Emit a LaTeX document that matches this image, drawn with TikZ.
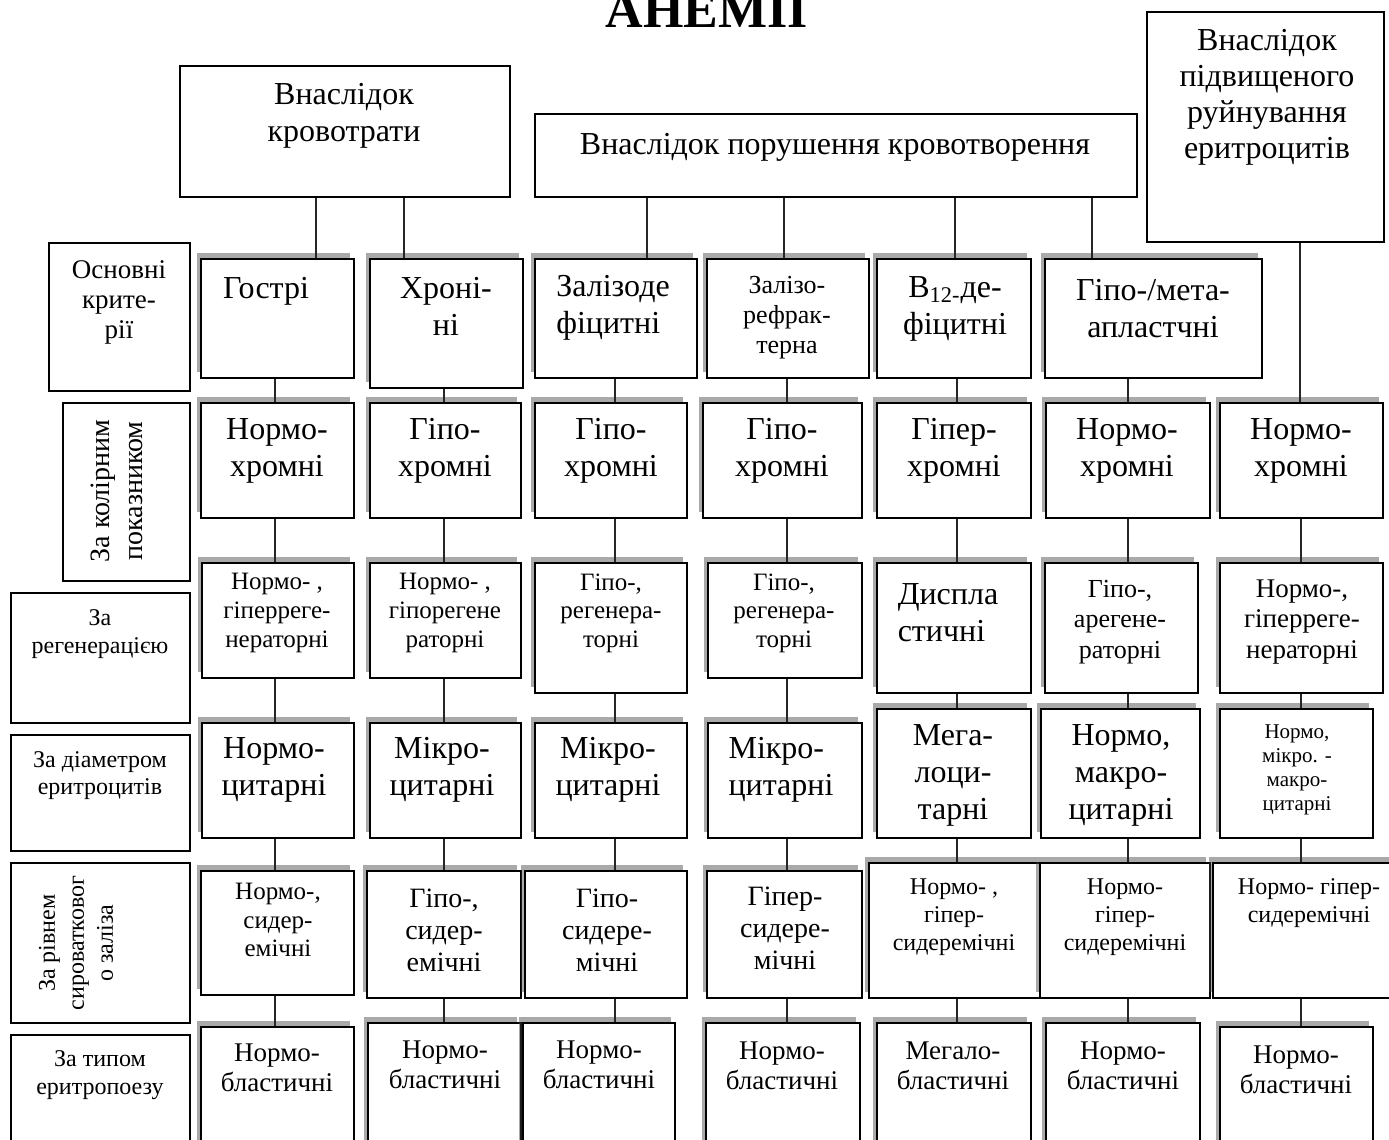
\documentclass[tikz,border=0pt]{standalone}
\usepackage{fontspec}
\setmainfont{Liberation Serif}
\usetikzlibrary{fit,shadows}
\tikzset{
  cell/.style={draw,line width=1pt,fill=white,inner sep=0pt},
  rowcell/.style={cell,drop shadow={shadow xshift=-2pt,shadow yshift=3pt,opacity=.45,fill=black!75}},
  wire/.style={line width=1.3pt,draw=black!85},
  txt/.style={align=center,inner sep=0pt},
  tA/.style={txt,font=\fontsize{16}{18.5}\selectfont},
  tB/.style={txt,font=\fontsize{14}{16}\selectfont},
  tC/.style={txt,font=\fontsize{13.5}{15}\selectfont},
  tD/.style={txt,font=\fontsize{12.5}{14.3}\selectfont},
  tE/.style={txt,font=\fontsize{12}{14}\selectfont},
  tF/.style={txt,font=\fontsize{10.5}{12}\selectfont}
}

\begin{document}
\begin{tikzpicture}[x=0.5pt,y=-0.5pt]
  \useasboundingbox (0,0) rectangle (1389,1140);
  % title
  \node[font=\fontsize{26}{30}\bfseries\selectfont,anchor=base] (title) at (707,27) {АНЕМІЇ};

  % causes
  \node[cell,fit={(180,66) (510,197)}] (A) {};
  \node[cell,fit={(535,114) (1137,197)}] (B) {};
  \node[cell,fit={(1147,12) (1384,242)}] (C) {};
  \node[tA] (A-t) at (344,116) {Внаслідок\\кровотрати};
  \node[tA] (B-t) at (835,147) {Внаслідок порушення кровотворення};
  \node[txt,font=\fontsize{16}{18}\selectfont] (C-t) at (1267,97) {Внаслідок\\підвищеного\\руйнування\\еритроцитів};

  % criteria
  \node[cell,fit={(49,243) (190,391)}] (L1) {};
  \node[cell,fit={(63,403) (190,581)}] (L2) {};
  \node[cell,fit={(11,593) (190,723)}] (L3) {};
  \node[cell,fit={(11,735) (190,851)}] (L4) {};
  \node[cell,fit={(11,863) (190,1023)}] (L5) {};
  \node[cell,fit={(11,1035) (190,1150)}] (L6) {};
  \node[tC] (L1-t) at (119,302) {Основні\\крите-\\рії};
  \node[txt,font=\fontsize{14}{16.5}\selectfont,rotate=90] (L2-t) at (117,491) {За колірним\\показником};
  \node[tE] (L3-t) at (100,634) {За\\регенерацією};
  \node[tE,font=\fontsize{12}{13.5}\selectfont] (L4-t) at (100,776) {За діаметром\\еритроцитів};
  \node[txt,font=\fontsize{12}{14.5}\selectfont,rotate=90] (L5-t) at (76,943) {За рівнем\\сироватковог\\о заліза};
  \node[tE] (L6-t) at (100,1075) {За типом\\еритропоезу};

  % row 1
  \node[rowcell,fit={(201,259) (354,378)}] (c-1-1) {};
  \node[rowcell,fit={(370,259) (523,388)}] (c-1-2) {};
  \node[rowcell,fit={(535,259) (697,378)}] (c-1-3) {};
  \node[rowcell,fit={(707,259) (869,378)}] (c-1-4) {};
  \node[rowcell,fit={(877,259) (1031,378)}] (c-1-5) {};
  \node[rowcell,fit={(1045,259) (1262,378)}] (c-1-6) {};
  \node[tA] (c-1-1-t) at (266,291) {Гострі};
  \node[tA] (c-1-2-t) at (446,306) {Хроні-\\ні};
  \node[tA,align=left] (c-1-3-t) at (613,308) {Залізоде\\фіцитні};
  \node[txt,font=\fontsize{13}{15}\selectfont] (c-1-4-t) at (787,318) {Залізо-\\рефрак-\\терна};
  \node[tA] (c-1-5-t) at (955,309) {В\textsubscript{12-}де-\\фіцитні};
  \node[tA] (c-1-6-t) at (1153,309) {Гіпо-/мета-\\апластчні};

  % row 2
  \node[rowcell,fit={(201,403) (354,518)}] (c-2-1) {};
  \node[rowcell,fit={(370,403) (521,518)}] (c-2-2) {};
  \node[rowcell,fit={(535,403) (687,518)}] (c-2-3) {};
  \node[rowcell,fit={(703,403) (862,518)}] (c-2-4) {};
  \node[rowcell,fit={(877,403) (1031,518)}] (c-2-5) {};
  \node[rowcell,fit={(1046,403) (1210,518)}] (c-2-6) {};
  \node[rowcell,fit={(1220,403) (1383,518)}] (c-2-7) {};
  \node[tA] (c-2-1-t) at (277,451) {Нормо-\\хромні};
  \node[tA] (c-2-2-t) at (445,451) {Гіпо-\\хромні};
  \node[tA] (c-2-3-t) at (611,451) {Гіпо-\\хромні};
  \node[tA] (c-2-4-t) at (782,451) {Гіпо-\\хромні};
  \node[tA] (c-2-5-t) at (954,451) {Гіпер-\\хромні};
  \node[tA] (c-2-6-t) at (1127,451) {Нормо-\\хромні};
  \node[tA] (c-2-7-t) at (1301,451) {Нормо-\\хромні};

  % row 3
  \node[rowcell,fit={(202,563) (354,678)}] (c-3-1) {};
  \node[rowcell,fit={(370,563) (521,678)}] (c-3-2) {};
  \node[rowcell,fit={(535,563) (687,693)}] (c-3-3) {};
  \node[rowcell,fit={(708,563) (862,678)}] (c-3-4) {};
  \node[rowcell,fit={(877,563) (1031,693)}] (c-3-5) {};
  \node[rowcell,fit={(1045,563) (1198,693)}] (c-3-6) {};
  \node[rowcell,fit={(1220,563) (1383,693)}] (c-3-7) {};
  \node[tD] (c-3-1-t) at (277,613) {Нормо- ,\\гіперреге-\\нераторні};
  \node[tD] (c-3-2-t) at (445,613) {Нормо- ,\\гіпорегене\\раторні};
  \node[tD] (c-3-3-t) at (611,613) {Гіпо-,\\регенера-\\торні};
  \node[tD] (c-3-4-t) at (784,613) {Гіпо-,\\регенера-\\торні};
  \node[tA,align=left] (c-3-5-t) at (948,613) {Диспла\\стичні};
  \node[txt,font=\fontsize{13}{15.3}\selectfont] (c-3-6-t) at (1120,622) {Гіпо-,\\арегене-\\раторні};
  \node[txt,font=\fontsize{13.5}{15.3}\selectfont] (c-3-7-t) at (1302,622) {Нормо-,\\гіперреге-\\нераторні};

  % row 4
  \node[rowcell,fit={(202,723) (354,838)}] (c-4-1) {};
  \node[rowcell,fit={(370,723) (521,838)}] (c-4-2) {};
  \node[rowcell,fit={(535,723) (687,838)}] (c-4-3) {};
  \node[rowcell,fit={(708,723) (862,838)}] (c-4-4) {};
  \node[rowcell,fit={(877,709) (1031,838)}] (c-4-5) {};
  \node[rowcell,fit={(1041,709) (1200,838)}] (c-4-6) {};
  \node[rowcell,fit={(1220,709) (1373,838)}] (c-4-7) {};
  \node[tA] (c-4-1-t) at (274,770) {Нормо-\\цитарні};
  \node[tA] (c-4-2-t) at (442,770) {Мікро-\\цитарні};
  \node[tA] (c-4-3-t) at (608,770) {Мікро-\\цитарні};
  \node[tA,align=left] (c-4-4-t) at (781,770) {Мікро-\\цитарні};
  \node[tA] (c-4-5-t) at (953,775) {Мега-\\лоци-\\тарні};
  \node[tA] (c-4-6-t) at (1121,775) {Нормо,\\макро-\\цитарні};
  \node[tF] (c-4-7-t) at (1297,770) {Нормо,\\мікро. -\\макро-\\цитарні};

  % row 5
  \node[rowcell,fit={(201,871) (354,995)}] (c-5-1) {};
  \node[rowcell,fit={(367,871) (521,998)}] (c-5-2) {};
  \node[rowcell,fit={(525,871) (687,998)}] (c-5-3) {};
  \node[rowcell,fit={(707,871) (862,998)}] (c-5-4) {};
  \node[rowcell,fit={(869,863) (1040,998)}] (c-5-5) {};
  \node[rowcell,fit={(1040,863) (1210,998)}] (c-5-6) {};
  \node[rowcell,fit={(1213,863) (1395,998)}] (c-5-7) {};
  \node[tD] (c-5-1-t) at (278,920) {Нормо-,\\сидер-\\емічні};
  \node[tB] (c-5-2-t) at (444,930) {Гіпо-,\\сидер-\\емічні};
  \node[tB] (c-5-3-t) at (607,930) {Гіпо-\\сидере-\\мічні};
  \node[tB] (c-5-4-t) at (785,928) {Гіпер-\\сидере-\\мічні};
  \node[tE] (c-5-5-t) at (954,917) {Нормо- ,\\гіпер-\\сидеремічні};
  \node[tE] (c-5-6-t) at (1125,917) {Нормо-\\гіпер-\\сидеремічні};
  \node[tE] (c-5-7-t) at (1309,903) {Нормо- гіпер-\\сидеремічні};

  % row 6
  \node[rowcell,fit={(201,1027) (354,1150)}] (c-6-1) {};
  \node[rowcell,fit={(368,1023) (521,1150)}] (c-6-2) {};
  \node[rowcell,fit={(523,1023) (675,1150)}] (c-6-3) {};
  \node[rowcell,fit={(706,1023) (860,1150)}] (c-6-4) {};
  \node[rowcell,fit={(877,1023) (1031,1150)}] (c-6-5) {};
  \node[rowcell,fit={(1046,1023) (1200,1150)}] (c-6-6) {};
  \node[rowcell,fit={(1220,1027) (1373,1150)}] (c-6-7) {};
  \node[tC] (c-6-1-t) at (277,1068) {Нормо-\\бластичні};
  \node[tC] (c-6-2-t) at (445,1065) {Нормо-\\бластичні};
  \node[tC] (c-6-3-t) at (599,1065) {Нормо-\\бластичні};
  \node[tC] (c-6-4-t) at (782,1066) {Нормо-\\бластичні};
  \node[tC] (c-6-5-t) at (953,1066) {Мегало-\\бластичні};
  \node[tC] (c-6-6-t) at (1123,1066) {Нормо-\\бластичні};
  \node[tC] (c-6-7-t) at (1296,1070) {Нормо-\\бластичні};

  % connectors
  \draw[wire] ([xshift=-14.5pt]A.south) -- ([xshift=-14.5pt]A.south |- c-1-1.north);
  \draw[wire] ([xshift=29.5pt]A.south) -- ([xshift=29.5pt]A.south |- c-1-2.north);
  \draw[wire] ([xshift=-94.5pt]B.south) -- ([xshift=-94.5pt]B.south |- c-1-3.north);
  \draw[wire] ([xshift=-26pt]B.south) -- ([xshift=-26pt]B.south |- c-1-4.north);
  \draw[wire] ([xshift=59.5pt]B.south) -- ([xshift=59.5pt]B.south |- c-1-5.north);
  \draw[wire] ([xshift=128pt]B.south) -- ([xshift=128pt]B.south |- c-1-6.north);
  \draw[wire] ([xshift=17.25pt]C.south) -- ([xshift=17.25pt]C.south |- c-2-7.north);
  \foreach \c/\x in {1/275,2/444,3/615,4/787,5/957,6/1128,7/1301}
    \coordinate (ax\c) at (\x,0);
  \foreach \c in {1,...,6}
    \draw[wire] (c-1-\c.south -| ax\c) -- (c-2-\c.north -| ax\c);
  \foreach \r/\n in {2/3,3/4,4/5,5/6}
    \foreach \c in {1,...,7}
      \draw[wire] (c-\r-\c.south -| ax\c) -- (c-\n-\c.north -| ax\c);
\end{tikzpicture}
\end{document}
